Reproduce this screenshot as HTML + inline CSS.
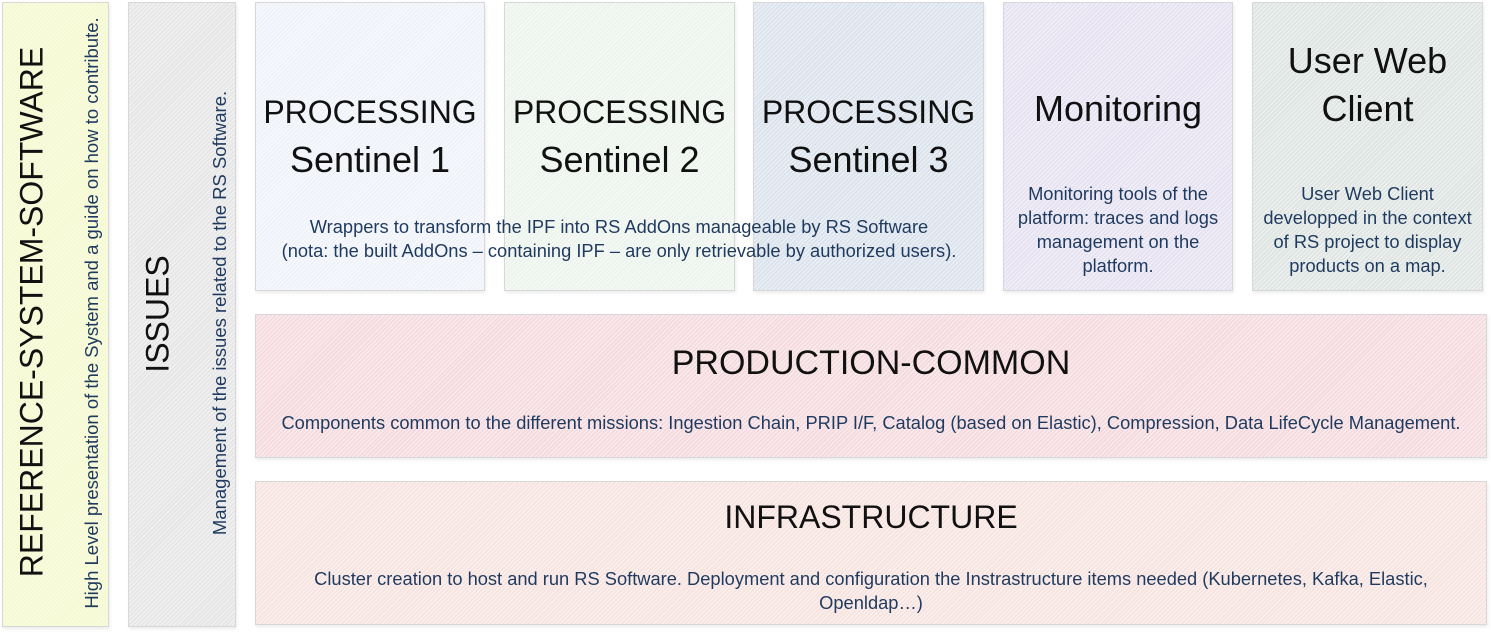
<!DOCTYPE html>
<html><head><meta charset="utf-8"><style>
body{margin:0;width:1491px;height:633px;background:#fff;position:relative;overflow:hidden;font-family:"Liberation Sans",sans-serif;}
.b{position:absolute;box-sizing:border-box;border:1px solid #d8d8d8;box-shadow:1px 2px 3px rgba(0,0,0,0.08);}
.h{background-image:repeating-linear-gradient(135deg,rgba(255,255,255,0.55) 0 1px,rgba(255,255,255,0) 1px 3px);}
.t{position:absolute;left:0;right:0;text-align:center;color:#111;font-size:36px;line-height:48px;white-space:nowrap;}
.c{font-size:32px;}
.d{position:absolute;left:0;right:0;text-align:center;color:#1f3a5f;font-size:18.3px;line-height:24px;white-space:nowrap;}
.v{position:absolute;white-space:nowrap;transform:translate(-50%,-50%) rotate(-90deg);text-align:center;}
</style></head><body>
<div class="b h" style="left:2px;top:2px;width:107px;height:625px;background-color:#f5f9cf"></div>
<div class="v" style="left:32px;top:312px;font-size:32px;color:#111">REFERENCE-SYSTEM-SOFTWARE</div>
<div class="v" style="left:92px;top:313px;font-size:18.5px;color:#1f3a5f">High Level presentation of the System and a guide on how to contribute.</div>
<div class="b h" style="left:128px;top:2px;width:108px;height:625px;background-color:#e6e6e6"></div>
<div class="v" style="left:158px;top:314px;font-size:32px;color:#111">ISSUES</div>
<div class="v" style="left:220px;top:313px;font-size:18.5px;color:#1f3a5f">Management of the issues related to the RS Software.</div>

<div class="b h" style="left:255px;top:2px;width:230px;height:289px;background-color:#eff3f9"><div class="t" style="top:84px"><span class="c">PROCESSING</span><br>Sentinel 1</div></div>
<div class="b h" style="left:504px;top:2px;width:231px;height:289px;background-color:#edf4ed"><div class="t" style="top:84px"><span class="c">PROCESSING</span><br>Sentinel 2</div></div>
<div class="b h" style="left:753px;top:2px;width:231px;height:289px;background-color:#dbe3ec"><div class="t" style="top:84px"><span class="c">PROCESSING</span><br>Sentinel 3</div></div>
<div class="b h" style="left:1003px;top:2px;width:230px;height:289px;background-color:#e6e2f1"><div class="t" style="top:82px">Monitoring</div><div class="d" style="top:179px">Monitoring tools of the<br>platform: traces and logs<br>management on the<br>platform.</div></div>
<div class="b h" style="left:1252px;top:2px;width:231px;height:289px;background-color:#dfe5e2"><div class="t" style="top:34px">User Web<br>Client</div><div class="d" style="top:179px">User Web Client<br>developped in the context<br>of RS project to display<br>products on a map.</div></div>
<div class="d" style="left:255px;right:auto;width:728px;top:215px;">Wrappers to transform the IPF into RS AddOns manageable by RS Software<br>(nota: the built AddOns – containing IPF – are only retrievable by authorized users).</div>

<div class="b h" style="left:255px;top:314px;width:1232px;height:144px;background-color:#f5dbdf"><div class="t c" style="top:24px;font-size:34px">PRODUCTION-COMMON</div><div class="d" style="top:96px">Components common to the different missions: Ingestion Chain, PRIP I/F, Catalog (based on Elastic), Compression, Data LifeCycle Management.</div></div>
<div class="b h" style="left:255px;top:481px;width:1232px;height:144px;background-color:#f7e4e0"><div class="t c" style="top:11px">INFRASTRUCTURE</div><div class="d" style="top:85px">Cluster creation to host and run RS Software. Deployment and configuration the Instrastructure items needed (Kubernetes, Kafka, Elastic,<br>Openldap…)</div></div>
</body></html>
